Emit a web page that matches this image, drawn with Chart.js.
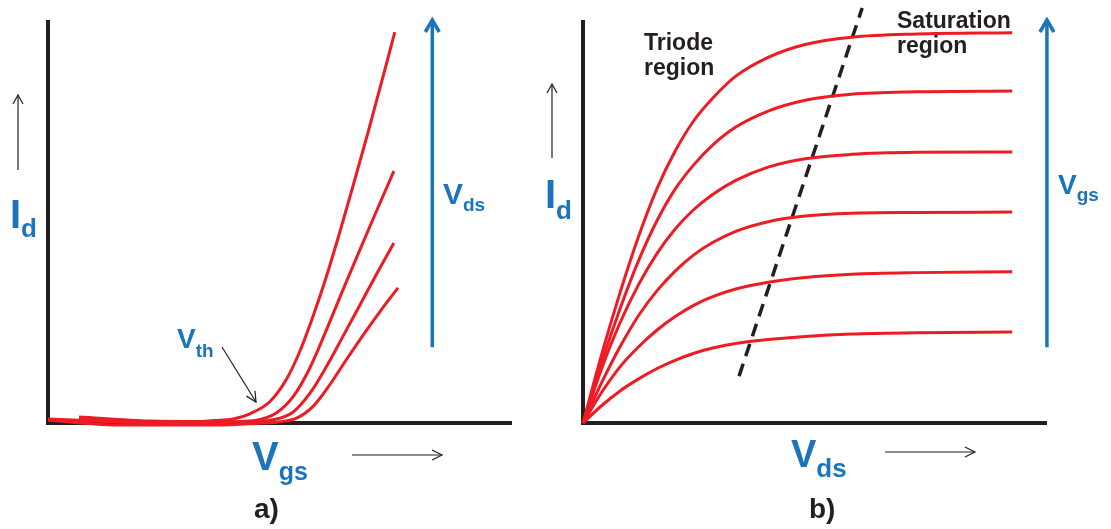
<!DOCTYPE html>
<html>
<head>
<meta charset="utf-8">
<script src="https://cdn.jsdelivr.net/npm/chart.js@4.4.0/dist/chart.umd.min.js"></script>
<style>
  html, body { margin: 0; padding: 0; background: #fff; }
  #wrapA { position: absolute; left: 0; top: 0; width: 520px; height: 529px; }
  #wrapB { position: absolute; left: 520px; top: 0; width: 591px; height: 529px; }
</style>
</head>
<body>
<div id="wrapA"><canvas id="chartA"></canvas></div>
<div id="wrapB"><canvas id="chartB"></canvas></div>
<script>
// panel a) : Id vs Vgs, one curve per Vds (arbitrary units 0..100)
var vgsA1 = [6.7, 22, 33, 36, 40, 43.6, 47.9, 51.5, 54.4, 57.3, 60.2, 63, 66, 69, 72, 74.9];
var idA1  = [1.5, 0.5, 0.4, 0.6, 1.0, 2.3, 5.3, 10.9, 17.9, 26.8, 36.8, 47.5, 59.6, 72.0, 84.8, 97.5];
var vgsA2 = [0, 16, 33, 40, 45.0, 49.3, 52.9, 56.5, 60.2, 63.7, 67.4, 71.0, 74.7];
var idA2  = [1.0, 0.2, -0.3, 0.3, 0.7, 2.5, 6.5, 13.6, 23.4, 33.2, 43.3, 53.0, 62.8];
var vgsA3 = [6.7, 22, 37, 44, 48.6, 52.9, 56.5, 60.2, 63.7, 67.4, 71.0, 74.7];
var idA3  = [1.2, 0.0, 0.2, 0.4, 0.8, 2.7, 7.3, 14.2, 21.6, 29.5, 37.2, 44.9];
var vgsA4 = [0, 16, 37, 45, 50.1, 53.7, 57.3, 60.9, 64.5, 68.1, 71.7, 75.6];
var idA4  = [0.7, -0.5, -0.5, -0.1, 0.3, 1.2, 4.2, 9.6, 15.9, 22.0, 27.8, 33.7];

// panel b) : Id vs Vds, one curve per Vgs (shared Vds samples)
var vdsB = [0, 4, 8, 12, 16, 20, 24, 28, 33, 40, 48, 58, 72, 92.7];
var idB1 = [0, 17.0, 32.5, 46.5, 58.5, 68.0, 75.5, 81.0, 86.5, 91.2, 94.4, 96.2, 97.0, 97.3];
var idB2 = [0, 15.0, 28.5, 40.5, 50.5, 58.5, 64.5, 69.3, 73.8, 77.8, 80.5, 82.0, 82.6, 82.8];
var idB3 = [0, 13.5, 25.0, 34.5, 42.3, 48.5, 53.3, 57.0, 60.5, 63.8, 65.9, 67.0, 67.5, 67.6];
var idB4 = [0, 10.0, 19.0, 26.8, 33.0, 38.0, 42.0, 45.0, 47.8, 50.2, 51.6, 52.3, 52.5, 52.6];
var idB5 = [0, 7.6, 14.0, 19.0, 23.2, 26.6, 29.4, 31.5, 33.4, 35.1, 36.3, 37.1, 37.5, 37.7];
var idB6 = [0, 4.3, 8.0, 11.0, 13.6, 15.7, 17.4, 18.7, 19.8, 20.8, 21.6, 22.2, 22.5, 22.7];
// triode / saturation boundary
var vdsEdge = [33.7, 60.3];
var idEdge  = [11.7, 103.5];

var RED = '#ed1c24', BLUE = '#1c75bc', DARK = '#231f20';
var FONT = '"Liberation Sans", Arial, sans-serif';

function pts(xs, ys) {
  return xs.map(function (x, i) { return { x: x, y: ys[i] }; });
}
function curve(xs, ys) {
  return {
    data: pts(xs, ys), showLine: true, borderColor: RED, borderWidth: 3,
    pointRadius: 0, cubicInterpolationMode: 'monotone', clip: false
  };
}
function axes() {
  var ax = {
    type: 'linear', min: 0, max: 100,
    grid: { display: false, drawTicks: false },
    ticks: { display: false },
    border: { display: true, color: DARK, width: 4 }
  };
  return { x: Object.assign({}, ax), y: Object.assign({}, ax) };
}

function label(ctx, main, sub, x, y, size, subSize, dy, color) {
  ctx.fillStyle = color;
  ctx.textAlign = 'left';
  ctx.textBaseline = 'alphabetic';
  ctx.font = 'bold ' + size + 'px ' + FONT;
  ctx.fillText(main, x, y);
  if (sub) {
    var w = ctx.measureText(main).width;
    ctx.font = 'bold ' + subSize + 'px ' + FONT;
    ctx.fillText(sub, x + w, y + dy);
  }
}
function arrow(ctx, x1, y1, x2, y2, color, width, len, half) {
  var a = Math.atan2(y2 - y1, x2 - x1);
  ctx.save();
  ctx.strokeStyle = color;
  ctx.lineWidth = width;
  ctx.beginPath();
  ctx.moveTo(x1, y1);
  ctx.lineTo(x2, y2);
  ctx.stroke();
  ctx.beginPath();
  ctx.moveTo(x2 - len * Math.cos(a) + half * Math.sin(a), y2 - len * Math.sin(a) - half * Math.cos(a));
  ctx.lineTo(x2, y2);
  ctx.lineTo(x2 - len * Math.cos(a) - half * Math.sin(a), y2 - len * Math.sin(a) + half * Math.cos(a));
  ctx.stroke();
  ctx.restore();
}

var baseOpts = function (pad) {
  return {
    responsive: true, maintainAspectRatio: false, animation: false,
    layout: { padding: pad },
    plugins: { legend: { display: false }, tooltip: { enabled: false } },
    scales: axes()
  };
};

new Chart(document.getElementById('chartA'), {
  type: 'scatter',
  data: {
    datasets: [curve(vgsA1, idA1), curve(vgsA2, idA2), curve(vgsA3, idA3), curve(vgsA4, idA4)]
  },
  options: baseOpts({ left: 48, right: 9, top: 22, bottom: 106 }),
  plugins: [{
    id: 'notesA',
    afterDraw: function (chart) {
      var ctx = chart.ctx, xs = chart.scales.x, ys = chart.scales.y;
      var bx = xs.getPixelForValue(83);
      arrow(ctx, bx, ys.getPixelForValue(18.9), bx, ys.getPixelForValue(100.5), BLUE, 3.5, 12, 7);
      label(ctx, 'I', 'd', 10, 228, 40, 26, 9, BLUE);
      arrow(ctx, 18, 170, 18, 95, DARK, 1.2, 9, 5);
      label(ctx, 'V', 'ds', 443, 204, 30, 19, 7, BLUE);
      label(ctx, 'V', 'th', 177, 348, 28, 19, 9, BLUE);
      arrow(ctx, 222, 347, 256, 402, DARK, 1.2, 10, 5);
      label(ctx, 'V', 'gs', 252, 470, 40, 25, 10, BLUE);
      arrow(ctx, 352, 455, 442, 455, DARK, 1.2, 10, 5);
      label(ctx, 'a)', '', 254, 518, 28, 0, 0, DARK);
    }
  }]
});

var edge = {
  data: pts(vdsEdge, idEdge), showLine: true, borderColor: DARK, borderWidth: 3.5,
  borderDash: [13, 8], pointRadius: 0, clip: false
};

new Chart(document.getElementById('chartB'), {
  type: 'scatter',
  data: {
    datasets: [curve(vdsB, idB1), curve(vdsB, idB2), curve(vdsB, idB3),
               curve(vdsB, idB4), curve(vdsB, idB5), curve(vdsB, idB6), edge]
  },
  options: baseOpts({ left: 63, right: 65, top: 22, bottom: 106 }),
  plugins: [{
    id: 'notesB',
    afterDraw: function (chart) {
      var ctx = chart.ctx, xs = chart.scales.x, ys = chart.scales.y;
      var bx = xs.getPixelForValue(100.2);
      arrow(ctx, bx, ys.getPixelForValue(18.9), bx, ys.getPixelForValue(100.5), BLUE, 3.5, 12, 7);
      label(ctx, 'I', 'd', 25, 208, 40, 26, 11, BLUE);
      arrow(ctx, 32, 158, 32, 84, DARK, 1.2, 9, 5);
      label(ctx, 'V', 'gs', 538, 194, 28, 19, 7, BLUE);
      ctx.fillStyle = DARK;
      ctx.font = 'bold 23px ' + FONT;
      ctx.fillText('Triode', 124, 50);
      ctx.fillText('region', 124, 75);
      ctx.fillText('Saturation', 377, 28);
      ctx.fillText('region', 377, 53);
      label(ctx, 'V', 'ds', 271, 467, 38, 26, 10, BLUE);
      arrow(ctx, 365, 452, 455, 452, DARK, 1.2, 10, 5);
      label(ctx, 'b)', '', 289, 518, 28, 0, 0, DARK);
    }
  }]
});
</script>
</body>
</html>
